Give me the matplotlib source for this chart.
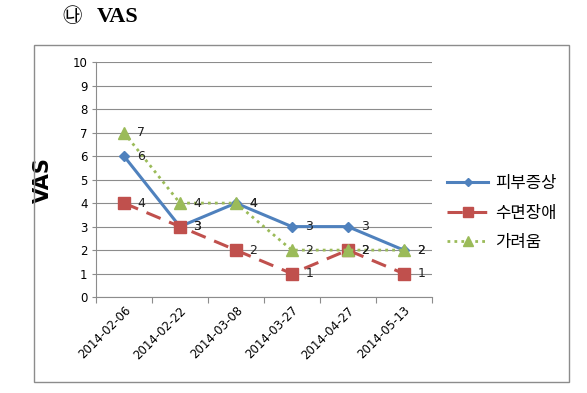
import matplotlib
matplotlib.use('Agg')
import matplotlib.pyplot as plt
from matplotlib.patches import Rectangle
import numpy as np

plt.rcParams['font.family'] = ['DejaVu Sans', 'Noto Sans CJK KR']

dates = ['2014-02-06', '2014-02-22', '2014-03-08', '2014-03-27', '2014-04-27', '2014-05-13']
skin = [6, 3, 4, 3, 3, 2]      # 피부증상
sleep = [4, 3, 2, 1, 2, 1]     # 수면장애
itch = [7, 4, 4, 2, 2, 2]      # 가려움
names = ['피부증상', '수면장애', '가려움']

fig = plt.figure(figsize=(5.87, 3.93), dpi=100)
fig.patches.append(Rectangle((0.058, 0.028), 0.911, 0.857, transform=fig.transFigure,
                             fill=False, edgecolor='#8c8c8c', linewidth=1.0))

ax = fig.add_axes([0.1635, 0.244, 0.572, 0.598])
x = np.arange(len(dates))

ax.plot(x, skin, color='#4F81BD', linewidth=2.2, marker='D', markersize=5.5, label=names[0], zorder=3)
ax.plot(x, sleep, color='#C0504D', linewidth=2.2, linestyle=(0, (5, 3)), marker='s',
        markersize=9, label=names[1], zorder=3)
ax.plot(x, itch, color='#9BBB59', linewidth=2.0, linestyle=(0, (1, 1.5)), marker='^',
        markersize=9, label=names[2], zorder=4)

for series in (skin, sleep, itch):
    for i, v in enumerate(series):
        ax.text(i + 0.24, v, str(v), fontsize=9, color='#222222', ha='left', va='center', zorder=5)

ax.set_xlim(-0.5, len(dates) - 0.5)
ax.set_ylim(0, 10)
ax.set_yticks(range(0, 11))
ax.tick_params(axis='y', labelsize=8.5, length=3, color='#8c8c8c', pad=3)
ax.set_xticks(np.arange(-0.5, len(dates), 1.0), minor=False)
ax.set_xticklabels([''] * (len(dates) + 1))
ax.tick_params(axis='x', length=4, color='#8c8c8c')
ax.set_xticks(x, minor=True)
ax.set_xticklabels(dates, minor=True, rotation=45, ha='right', rotation_mode='anchor', fontsize=8.5)
ax.tick_params(axis='x', which='minor', length=0, pad=5)

ax.grid(axis='y', color='#8c8c8c', linewidth=0.8)
ax.set_axisbelow(True)
for s in ['top', 'right']:
    ax.spines[s].set_visible(False)
ax.spines['left'].set_color('#8c8c8c')
ax.spines['bottom'].set_color('#8c8c8c')

ax.set_ylabel('VAS', fontsize=15, fontweight='bold', labelpad=14)

leg = ax.legend(loc='center left', bbox_to_anchor=(1.0, 0.357), frameon=False,
                handlelength=2.5, handletextpad=0.4, labelspacing=0.75, markerscale=0.75,
                prop={'family': ['Noto Sans CJK KR', 'DejaVu Sans'], 'size': 12})

fig.text(0.123, 0.957, '㉯', fontsize=14, family=['Noto Sans CJK KR', 'DejaVu Sans'],
         ha='center', va='center')
fig.text(0.165, 0.957, 'VAS', fontsize=16, fontweight='bold', family='Liberation Serif',
         ha='left', va='center')

fig.savefig('out.png', dpi=100)
